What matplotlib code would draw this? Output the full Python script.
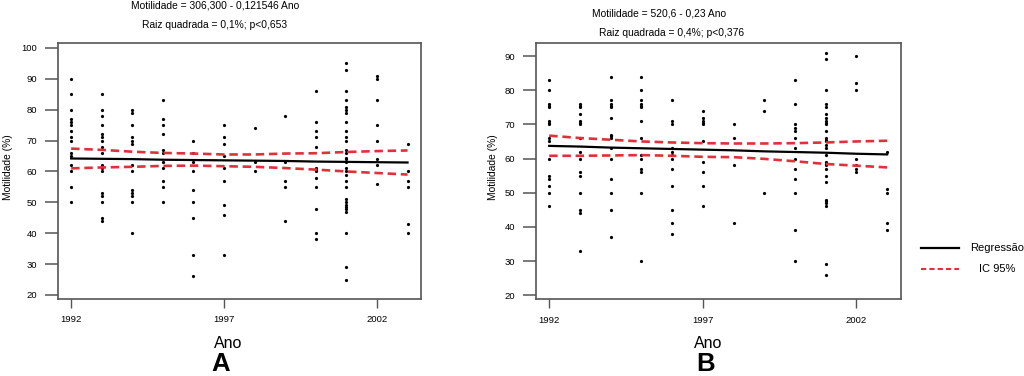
import matplotlib
matplotlib.use("Agg")
import matplotlib.pyplot as plt
from matplotlib.lines import Line2D

# Motilidade (%) par année
anos = [1992, 1993, 1994, 1995, 1996, 1997, 1998, 1999, 2000, 2001, 2002, 2003]
ticks_ano = [1992, 1997, 2002]

motil_a = [
  [90, 85, 80, 77, 76, 75, 73, 71, 70, 66, 65, 62, 60, 55, 50],
  [85, 80, 78, 75, 72, 71, 70, 68, 66, 62, 61, 60, 53, 52, 50, 45, 44],
  [80, 79, 75, 71, 70, 69, 62, 60, 54, 53, 52, 50, 40],
  [83, 77, 75, 72, 67, 66, 63, 61, 57, 55, 50],
  [70, 66, 63, 60, 54, 50, 45, 33, 26],
  [75, 71, 69, 65, 61, 57, 49, 46, 33],
  [74, 63, 60],
  [78, 63, 57, 55, 44],
  [86, 76, 73, 71, 68, 61, 60.5, 60, 58, 55, 48, 40, 38],
  [95, 93, 86, 83, 81, 80, 79, 76, 73, 71, 70, 67, 66, 64.5, 64, 63, 61, 60, 59, 57, 55,
   51, 50, 49, 48.5, 48, 47, 40, 29, 25],
  [91, 90, 83, 75, 70, 64, 62, 56],
  [69, 60, 57, 55, 43, 40],
]
reg_a     = [64.2, 64.1, 64.0, 63.8, 63.7, 63.6, 63.5, 63.4, 63.2, 63.1, 63.0, 62.9]
ic_sup_a  = [67.4, 67.0, 66.4, 66.0, 65.8, 65.5, 65.5, 65.8, 65.9, 66.3, 66.6, 66.8]
ic_inf_a  = [61.0, 61.3, 61.5, 61.8, 61.9, 61.7, 61.5, 61.1, 60.6, 60.0, 59.5, 59.0]

motil_b = [
  [83, 80, 76, 75.5, 75, 71, 70.5, 70, 66, 65, 60, 55, 54, 52, 50, 46],
  [76, 75.5, 75, 73, 71, 70.5, 70, 66, 62, 60, 56, 55, 50, 45, 44, 33],
  [84, 77, 76, 75.5, 75, 72, 67, 66.5, 66, 63, 60, 54, 50, 45, 37],
  [84, 80, 77, 76, 75.5, 75, 71, 66, 61, 60, 57, 56, 50, 30],
  [77, 71, 70, 63, 62, 61, 60, 57, 52, 45, 41, 38],
  [74, 72, 71, 70.5, 70, 65, 59, 56, 52, 46],
  [70, 66, 58, 41],
  [77, 74, 50],
  [83, 76, 70, 69, 68, 66, 63, 60, 57, 54, 50, 39, 30],
  [91, 89, 80, 76, 75, 73, 72, 71, 70.5, 70, 68, 66, 65.5, 65, 64, 63, 61, 59, 58.5, 58,
   57, 55, 53, 48, 47.5, 47, 46, 29, 26],
  [90, 82, 80, 60, 58, 57, 56],
  [62, 51, 50, 41, 39],
]
reg_b     = [63.7, 63.5, 63.2, 63.0, 62.8, 62.6, 62.4, 62.1, 61.9, 61.7, 61.4, 61.2]
ic_sup_b  = [66.7, 66.0, 65.5, 65.0, 64.7, 64.5, 64.4, 64.4, 64.5, 64.7, 65.0, 65.2]
ic_inf_b  = [60.8, 60.8, 60.9, 61.0, 60.8, 60.5, 60.4, 59.9, 59.2, 58.4, 57.9, 57.4]

titre_a = ["Motilidade = 306,300 - 0,121546 Ano", "Raiz quadrada = 0,1%; p<0,653"]
titre_b = ["Motilidade = 520,6 - 0,23 Ano", "Raiz quadrada = 0,4%; p<0,376"]

plt.rcParams['font.family'] = ['Liberation Sans', 'DejaVu Sans']

W, H = 1024, 376
fig = plt.figure(figsize=(W/100, H/100), dpi=100)

RED = "#e0313b"
AXC = "#555555"


def panel(rect, data, reg, ic_sup, ic_inf, ylim, yticks):
  ax = fig.add_axes(rect)
  for ano, vals in zip(anos, data):
    ax.plot([ano]*len(vals), vals, linestyle="none", marker="o", markersize=2.3,
            color="black", markeredgewidth=0)
  ax.plot(anos, reg, color="black", linewidth=1.6)
  ax.plot(anos, ic_sup, color=RED, linewidth=1.9, dashes=(3.2, 1.8))
  ax.plot(anos, ic_inf, color=RED, linewidth=1.9, dashes=(3.2, 1.8))
  ax.set_xlim(1991.57, 2003.44)
  ax.set_ylim(*ylim)
  ax.set_xticks(ticks_ano)
  ax.set_yticks(yticks)
  ax.tick_params(axis="y", length=9.2, width=1.1, pad=5.8, labelsize=6.8, color=AXC)
  ax.tick_params(axis="x", length=6.5, width=1.0, pad=5.2, labelsize=6.8, color=AXC)
  for s in ax.spines.values():
    s.set_color(AXC)
    s.set_linewidth(1.2)
  return ax


panel([58/W, 1-299/H, 363/W, 256/H], motil_a, reg_a, ic_sup_a, ic_inf_a,
      (18.7, 101.6), range(20, 101, 10))
panel([536/W, 1-299.3/H, 364.7/W, 256.6/H], motil_b, reg_b, ic_sup_b, ic_inf_b,
      (18.8, 93.9), range(20, 91, 10))

# titres
fig.text(215/W, 1-6/H, titre_a[0], ha="center", va="center", fontsize=7.4)
fig.text(215/W, 1-25/H, titre_a[1], ha="center", va="center", fontsize=7.4)
fig.text(659/W, 1-14/H, titre_b[0], ha="center", va="center", fontsize=7.4)
fig.text(672/W, 1-33/H, titre_b[1], ha="center", va="center", fontsize=7.4)

# axes labels
for x in (8, 493):
  fig.text(x/W, 1-167/H, "Motilidade (%)", rotation=90, ha="center", va="center", fontsize=7.4)
for x in (228, 708):
  fig.text(x/W, 1-343/H, "Ano", ha="center", va="center", fontsize=11.5)
for x, lab in ((221, "A"), (706, "B")):
  fig.text(x/W, 1-364/H, lab, ha="center", va="center", fontsize=18.5, fontweight="bold",
           family=['Liberation Sans Narrow', 'Liberation Sans', 'DejaVu Sans'])

# légende
fig.add_artist(Line2D([921/W, 959/W], [1-248/H, 1-248/H], color="black", linewidth=1.6))
fig.add_artist(Line2D([921/W, 959/W], [1-269/H, 1-269/H], color=RED, linewidth=1.5, dashes=(2.5, 1.5)))
fig.text(997/W, 1-248/H, "Regressão", ha="center", va="center", fontsize=8)
fig.text(997/W, 1-269/H, "IC 95%", ha="center", va="center", fontsize=8)

fig.savefig("out.png", dpi=100)
